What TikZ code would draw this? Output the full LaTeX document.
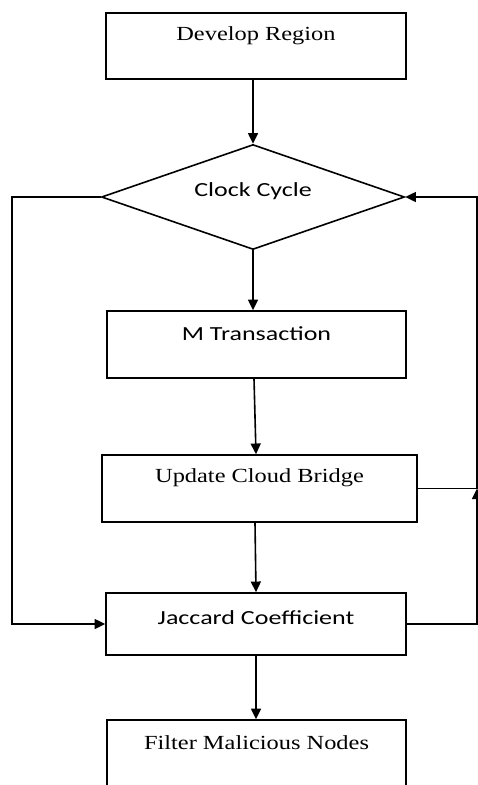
\documentclass[tikz,border=0pt]{standalone}
\usepackage{fontspec}
\usepackage{tikz}
\usetikzlibrary{shapes.geometric,arrows.meta}
\newfontfamily\boxserif{Liberation Serif}[FakeStretch=1.22]
\newfontfamily\boxsans{Carlito}[FakeStretch=1.3]

\begin{document}
\begin{tikzpicture}[x=0.75pt,y=0.75pt,yscale=-1,xscale=1,
	stepbox/.style={draw,line width=1.2pt,inner sep=0pt,fill=white},
	serifstyle/.style={font={\boxserif\fontsize{15}{18}\selectfont},anchor=base},
	sansstyle/.style={font={\boxsans\fontsize{15}{18}\selectfont},anchor=base},
	flowarrow/.style={line width=1.2pt,-{Triangle[length=8pt,width=7.5pt]}},
	flowline/.style={line width=1.2pt}]
	\useasboundingbox (0,0) rectangle (478,785);
	
	%Shape: Rectangle [id:develop]
	\node[stepbox,minimum width=225pt,minimum height=49.5pt,
		label={[serifstyle,yshift=-21pt]north:Develop Region}] (develop) at (256,46) {};
	%Shape: Diamond [id:clock]
	\node[stepbox,diamond,minimum width=227.25pt,minimum height=78.75pt] (clock) at (253,197) {};
	\node[sansstyle] (clocktxt) at (253,196) {Clock Cycle};
	%Shape: Rectangle [id:mtrans]
	\node[stepbox,minimum width=224.25pt,minimum height=50.25pt,
		label={[sansstyle,yshift=-23pt]north:M Transaction}] (mtrans) at (256.5,344.5) {};
	%Shape: Rectangle [id:bridge]
	\node[stepbox,minimum width=236.25pt,minimum height=50.25pt,
		label={[serifstyle,yshift=-21pt]north:Update Cloud Bridge}] (bridge) at (259.5,488.5) {};
	%Shape: Rectangle [id:jaccard]
	\node[stepbox,minimum width=225pt,minimum height=46.5pt,
		label={[sansstyle,yshift=-24pt]north:Jaccard Coefficient}] (jaccard) at (256,624) {};
	%Shape: Rectangle [id:filter]
	\node[stepbox,minimum width=224.25pt,minimum height=50.25pt,
		label={[serifstyle,yshift=-22.5pt]north:Filter Malicious Nodes}] (filter) at (256.5,753.5) {};
	
	%Straight Lines
	\draw[flowarrow] (clock.north |- develop.south) -- (clock.north);
	\draw[flowarrow] (clock.south) -- (clock.south |- mtrans.north);
	\draw[flowarrow] (mtrans.south -| 254,0) -- (bridge.north -| 256,0);
	\draw[flowarrow] (bridge.south -| 255,0) -- (jaccard.north);
	\draw[flowarrow] (jaccard.south) -- (filter.north -| 256,0);
	
	%Loop left
	\coordinate (leftcorner) at (12,197);
	\draw[flowarrow] (clock.west) -- (leftcorner) |- (jaccard.west);
	
	%Loop right
	\coordinate (junction) at (477,488.5);
	\draw[flowline] (bridge.east) -- (junction);
	\draw[flowarrow] (jaccard.east) -| (junction);
	\draw[flowarrow] (junction) |- (clock.east);
\end{tikzpicture}
\end{document}
